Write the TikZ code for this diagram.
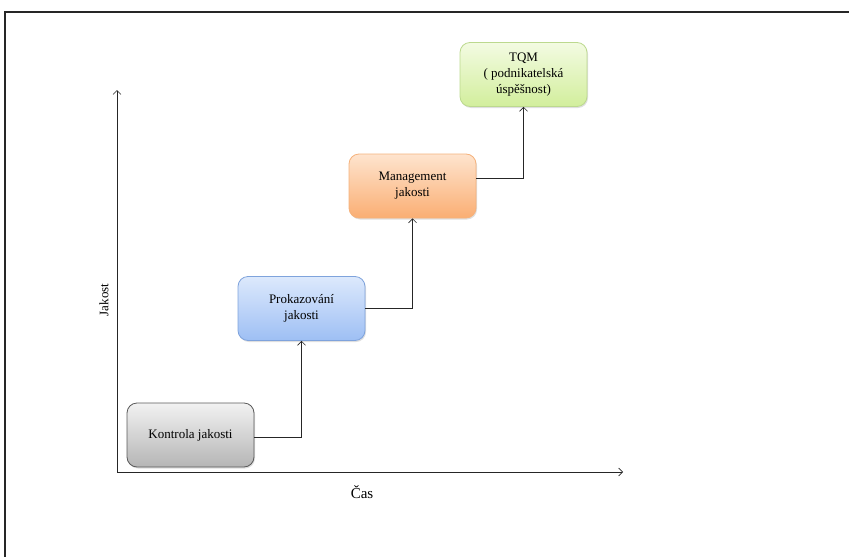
\documentclass[tikz,border=0pt]{standalone}
\usepackage{fontspec}
\setmainfont{Liberation Serif}
\usetikzlibrary{arrows.meta,shadows}
\definecolor{grayB}{HTML}{5A5A5A}
\definecolor{grayT}{HTML}{F2F2F2}
\definecolor{grayD}{HTML}{B5B5B5}
\definecolor{blueB}{HTML}{7FA3DC}
\definecolor{blueT}{HTML}{DDE9FC}
\definecolor{blueD}{HTML}{9DBFF4}
\definecolor{oranB}{HTML}{F5B27C}
\definecolor{oranT}{HTML}{FEE4CE}
\definecolor{oranD}{HTML}{FAAE73}
\definecolor{greenB}{HTML}{BCD98E}
\definecolor{greenT}{HTML}{F3FBE2}
\definecolor{greenD}{HTML}{D2EE9C}
\tikzset{
  x=1pt,y=-1pt,
  stepbox/.style={rounded corners=10pt, minimum width=127pt, minimum height=64pt,
    inner sep=0pt, align=center, font=\fontsize{13}{16}\selectfont, line width=0.8pt,
    drop shadow={shadow xshift=1pt,shadow yshift=-1.5pt,opacity=0.25}},
  conn/.style={line width=0.6pt, draw=black!85},
  arr/.style={conn,-{Straight Barb[length=4pt,width=8pt]}},
}
\begin{document}
\begin{tikzpicture}
\useasboundingbox (0,0) rectangle (849,557);
% frame
\draw[line width=2pt, draw=black!85] (5,557) -- (5,12) -- (849,12);
% axes
\coordinate (O) at (117,472);
\coordinate (Ytop) at (117,90);
\coordinate (Xend) at (623,472);
\draw[arr] (O) -- (Ytop);
\draw[arr] (O) -- (Xend);
\node[rotate=90, font=\fontsize{13}{15}\selectfont] (ylab) at (104,300) {Jakost};
\node[font=\fontsize{15}{17}\selectfont] (xlab) at (362,492) {Čas};
% boxes
\node[stepbox, draw=grayB, top color=grayT, bottom color=grayD] (b1) at (190.5,435) {Kontrola jakosti};
\node[stepbox, draw=blueB, top color=blueT, bottom color=blueD] (b2) at (301.5,308.5) {Prokazování\\jakosti};
\node[stepbox, draw=oranB, top color=oranT, bottom color=oranD] (b3) at (412.5,186) {Management\\jakosti};
\node[stepbox, draw=greenB, top color=greenT, bottom color=greenD] (b4) at (523.5,74.5) {TQM\\( podnikatelská\\úspěšnost)};
% connectors
\draw[arr] ([yshift=-2pt]b1.east) -| (b2.south);
\draw[arr] (b2.east) -| (b3.south);
\draw[arr] ([yshift=8pt]b3.east) -| (b4.south);
\end{tikzpicture}
\end{document}
